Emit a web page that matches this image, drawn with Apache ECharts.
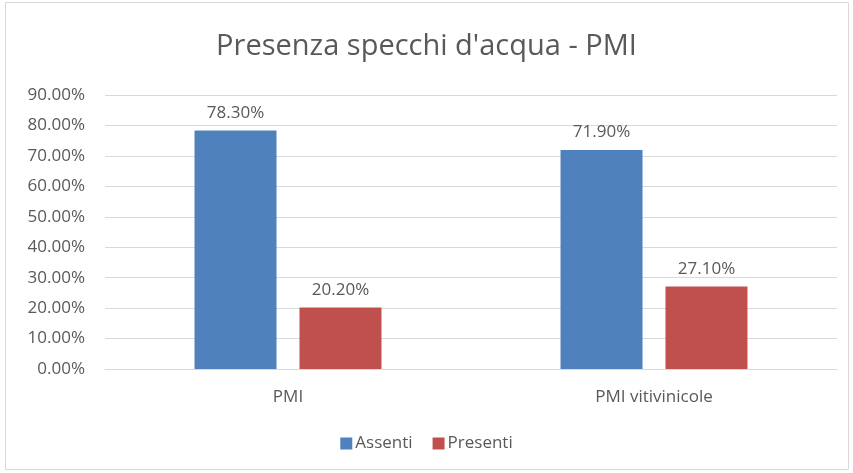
<!DOCTYPE html>
<html>
<head>
<meta charset="utf-8">
<script src="https://cdn.jsdelivr.net/npm/echarts@6/dist/echarts.min.js"></script>
<style>
  html, body { margin: 0; padding: 0; background: #fff; }
  #chart { width: 853px; height: 473px; }
</style>
</head>
<body>
<div id="chart"></div>
<script>
// dati
const categories = ["PMI", "PMI vitivinicole"];
const assenti = [78.3, 71.9];
const presenti = [20.2, 27.1];
const yTicks = [0, 10, 20, 30, 40, 50, 60, 70, 80, 90];

const chart = echarts.init(document.getElementById("chart"));
const txt = "#595959";
const font = "'Open Sans', 'Noto Sans', sans-serif";

chart.setOption({
  animation: false,
  title: {
    text: "Presenza specchi d'acqua - PMI",
    left: "center",
    top: 27,
    textStyle: { color: txt, fontSize: 29, fontWeight: "normal", fontFamily: font },
  },
  graphic: [
    {
      type: "rect",
      shape: { x: 5.5, y: 2.5, width: 843, height: 467 },
      style: { fill: "none", stroke: "#d9d9d9", lineWidth: 1 },
    },
  ],
  grid: { left: 105, right: 16, top: 95, bottom: 104 },
  legend: {
    bottom: 16,
    left: "center",
    itemWidth: 12,
    itemHeight: 12,
    itemGap: 20,
    icon: "rect",
    textStyle: { color: txt, fontSize: 17, fontFamily: font, padding: [0, 0, 0, -2] },
    data: ["Assenti", "Presenti"],
  },
  xAxis: {
    type: "category",
    data: categories,
    axisLine: { lineStyle: { color: "#d9d9d9" } },
    axisTick: { show: false },
    axisLabel: { color: txt, fontSize: 17, fontFamily: font, margin: 20 },
  },
  yAxis: {
    type: "value",
    min: yTicks[0],
    max: yTicks[yTicks.length - 1],
    interval: 10,
    axisLine: { show: false },
    axisTick: { show: false },
    splitLine: { lineStyle: { color: "#d9d9d9" } },
    axisLabel: {
      color: txt,
      fontSize: 17,
      fontFamily: font,
      margin: 20,
      formatter: (v) => v.toFixed(2) + "%",
    },
  },
  series: [
    {
      name: "Assenti",
      type: "bar",
      data: assenti,
      barWidth: 82,
      barGap: "28%",
      itemStyle: { color: "#4f81bd" },
      label: {
        show: true,
        position: "top",
        distance: 9,
        color: txt,
        fontSize: 17,
        fontFamily: font,
        formatter: (p) => p.value.toFixed(2) + "%",
      },
    },
    {
      name: "Presenti",
      type: "bar",
      data: presenti,
      barWidth: 82,
      itemStyle: { color: "#c0504d" },
      label: {
        show: true,
        position: "top",
        distance: 9,
        color: txt,
        fontSize: 17,
        fontFamily: font,
        formatter: (p) => p.value.toFixed(2) + "%",
      },
    },
  ],
});
</script>
</body>
</html>
